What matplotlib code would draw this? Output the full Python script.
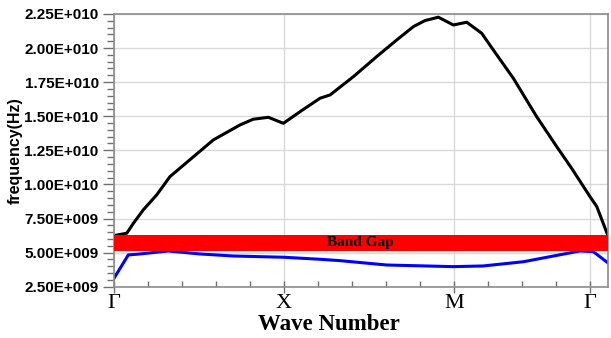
import numpy as np
import matplotlib.pyplot as plt
from matplotlib.ticker import MultipleLocator

# band 1 (lower, blue) and band 2 (upper, black) along the k-path
k_blue = [0.0, 0.084, 0.153, 0.319, 0.506, 0.702, 0.996, 1.212, 1.329, 1.604,
          1.996, 2.172, 2.408, 2.741, 2.819, 2.904]
f_blue = [3.12e9, 4.83e9, 4.90e9, 5.12e9, 4.90e9, 4.75e9, 4.66e9, 4.51e9, 4.41e9,
          4.09e9, 3.97e9, 4.02e9, 4.33e9, 5.12e9, 5.07e9, 4.26e9]

k_black = [0.0, 0.075, 0.114, 0.172, 0.251, 0.329, 0.584, 0.741, 0.819, 0.908,
           0.996, 1.094, 1.212, 1.271, 1.408, 1.545, 1.663, 1.761, 1.829, 1.908,
           1.996, 2.075, 2.163, 2.231, 2.349, 2.486, 2.604, 2.692, 2.80, 2.84, 2.904]
f_black = [6.25e9, 6.42e9, 7.15e9, 8.13e9, 9.23e9, 1.057e10, 1.326e10, 1.436e10,
           1.478e10, 1.492e10, 1.448e10, 1.533e10, 1.632e10, 1.656e10, 1.790e10,
           1.937e10, 2.059e10, 2.157e10, 2.201e10, 2.226e10, 2.169e10, 2.189e10,
           2.108e10, 1.986e10, 1.778e10, 1.497e10, 1.277e10, 1.118e10, 9.10e9,
           8.37e9, 6.29e9]

gap_low = 5.12e9
gap_high = 6.29e9

k_ticks = [0.0, 1.0, 2.0, 2.8]
k_labels = ["Γ", "X", "M", "Γ"]
f_ticks = [2.5e9, 5.0e9, 7.5e9, 1.0e10, 1.25e10, 1.5e10, 1.75e10, 2.0e10, 2.25e10]
f_labels = ["2.50E+009", "5.00E+009", "7.50E+009", "1.00E+010", "1.25E+010",
            "1.50E+010", "1.75E+010", "2.00E+010", "2.25E+010"]

fig = plt.figure(figsize=(6.11, 3.38), dpi=100)
ax = fig.add_axes([0.1866, 0.1518, 0.808, 0.807])

ax.plot(k_blue, f_blue, color="#0000ff", lw=2.2, zorder=2)
ax.plot(k_black, f_black, color="black", lw=2.2, zorder=2)
ax.axhspan(gap_low, gap_high, color="#ff0000", lw=0, zorder=3)
ax.text(1.447, (gap_low + gap_high) / 2, "Band Gap", family="Liberation Serif",
        fontweight="bold", fontsize=11, ha="center", va="center", zorder=4)

ax.set_xlim(0, 2.904)
ax.set_ylim(2.5e9, 2.25e10)

ax.set_xticks(k_ticks)
ax.set_xticklabels(k_labels, family="Liberation Serif", fontsize=16)
ax.xaxis.set_minor_locator(MultipleLocator(0.2))
ax.set_yticks(f_ticks)
ax.set_yticklabels(f_labels, family="Liberation Sans", fontweight="bold", fontsize=11)
ax.yaxis.set_minor_locator(MultipleLocator(5e8))

ax.tick_params(axis="y", which="major", length=8, width=1, color="#707070", pad=3)
ax.tick_params(axis="y", which="minor", length=5, width=1, color="#707070")
ax.tick_params(axis="x", which="major", direction="inout", length=8, width=1,
               color="#707070", pad=1)
ax.tick_params(axis="x", which="minor", direction="in", length=4, width=1,
               color="#707070")

ax.grid(True, which="major", color="#d9d9d9", lw=1)
for s in ax.spines.values():
    s.set_color("#8c8c8c")
    s.set_linewidth(1.2)

ax.set_ylabel("frequency(Hz)", family="Liberation Sans", fontweight="bold",
              fontsize=11.5, labelpad=1)
ax.set_xlabel("Wave Number", family="Liberation Serif", fontweight="bold",
              fontsize=16.5, labelpad=-2)
ax.xaxis.set_label_coords(0.435, -0.1)

fig.savefig("out.png", dpi=100)
